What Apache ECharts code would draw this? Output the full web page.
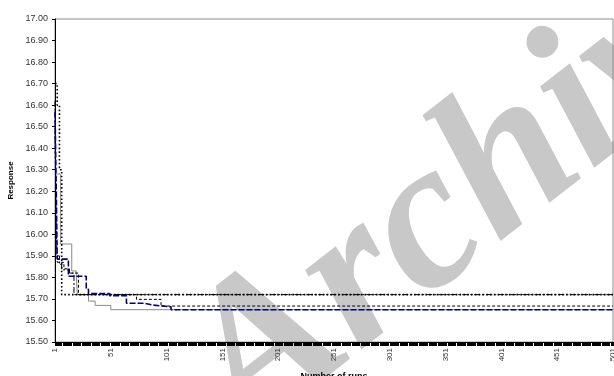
<!DOCTYPE html>
<html>
<head>
<meta charset="utf-8">
<script src="https://cdn.jsdelivr.net/npm/echarts@6/dist/echarts.min.js"></script>
<style>
  html, body { margin: 0; padding: 0; background: #fff; }
  #chart { width: 614px; height: 376px; }
</style>
</head>
<body>
<div id="chart"></div>
<script>
// Run axis: runs 1..501, labelled every 50 runs
const runMin = 1;
const runMax = 501;
const runStep = 50;

// Response axis range
const respMin = 15.5;
const respMax = 17.0;
const respStep = 0.1;

// Best response so far, as [run, value] at each run where it improves
const seriesGraySolid = [[1, 16.28], [6, 15.955], [16, 15.83], [20, 15.81], [21, 15.72], [31, 15.69], [37, 15.67], [51, 15.65], [501, 15.65]];
const seriesNavyDashed = [[1, 16.57], [2, 16.25], [3, 15.885], [13, 15.805], [29, 15.745], [31, 15.725], [50, 15.715], [65, 15.68], [81, 15.672], [88, 15.663], [105, 15.65], [501, 15.65]];
const seriesBlackDotted = [[1, 16.70], [3, 16.60], [5, 16.30], [7, 15.72], [501, 15.72]];
const seriesBlackDashDot = [[1, 16.62], [2, 15.90], [5, 15.86], [7, 15.835], [14, 15.82], [18, 15.72], [501, 15.72]];
const seriesBlackDashed = [[1, 16.48], [2, 16.05], [3, 15.87], [9, 15.84], [14, 15.82], [22, 15.72], [74, 15.698], [96, 15.667], [501, 15.667]];

const axisFont = 'Liberation Sans, Arial, sans-serif';

function stepLine(data, color, width, type, z) {
  return {
    type: 'line',
    data: data,
    step: 'end',
    symbol: 'none',
    z: z,
    lineStyle: { color: color, width: width, type: type, cap: 'butt' }
  };
}

const chart = echarts.init(document.getElementById('chart'), null, { renderer: 'canvas' });

chart.setOption({
  animation: false,
  backgroundColor: '#ffffff',
  grid: {
    left: 55, right: 1, top: 19, bottom: 34,
    show: true, borderColor: '#8c8c8c', borderWidth: 1,
    containLabel: false,
    outerBoundsMode: 'none'
  },
  graphic: [{
    type: 'text',
    z: -10,
    silent: true,
    x: 482, y: 186,
    rotation: 38 * Math.PI / 180,
    style: {
      text: 'Archive',
      font: 'italic bold 212px "Liberation Serif", "Times New Roman", serif',
      fill: '#c8c8c8',
      textAlign: 'center',
      textVerticalAlign: 'middle'
    }
  }],
  xAxis: {
    type: 'value',
    min: runMin, max: runMax, interval: runStep,
    name: 'Number of runs',
    nameLocation: 'middle',
    nameGap: 30,
    nameTextStyle: { fontFamily: axisFont, fontSize: 9, fontWeight: 'bold', color: '#000' },
    axisLine: { show: true, lineStyle: { color: '#000', width: 1 } },
    axisTick: { show: true, length: 4, lineStyle: { color: '#000', width: 1 } },
    minorTick: { show: true, splitNumber: 50, length: 4, lineStyle: { color: '#000', width: 1 } },
    splitLine: { show: false },
    axisLabel: { rotate: 90, fontFamily: axisFont, fontSize: 8, color: '#333', margin: 6 }
  },
  yAxis: {
    type: 'value',
    min: respMin, max: respMax, interval: respStep,
    name: 'Response',
    nameLocation: 'middle',
    nameRotate: 90,
    nameGap: 38,
    nameTextStyle: { fontFamily: axisFont, fontSize: 8, fontWeight: 'bold', color: '#000' },
    axisLine: { show: true, lineStyle: { color: '#000', width: 1 } },
    axisTick: { show: true, length: 3, lineStyle: { color: '#000', width: 1 } },
    splitLine: { show: false },
    axisLabel: {
      fontFamily: axisFont, fontSize: 9, color: '#333', margin: 7,
      formatter: v => v.toFixed(2)
    }
  },
  series: [
    stepLine(seriesGraySolid, '#8a8a8a', 1, 'solid', 2),
    stepLine(seriesBlackDashed, '#000', 1, [3, 2], 3),
    stepLine(seriesBlackDashDot, '#000', 1, [6, 2, 2, 2], 3),
    stepLine(seriesBlackDotted, '#000', 1.6, [1.6, 2.2], 4),
    stepLine(seriesNavyDashed, '#000080', 1.6, [6, 2], 5)
  ]
});
</script>
</body>
</html>
